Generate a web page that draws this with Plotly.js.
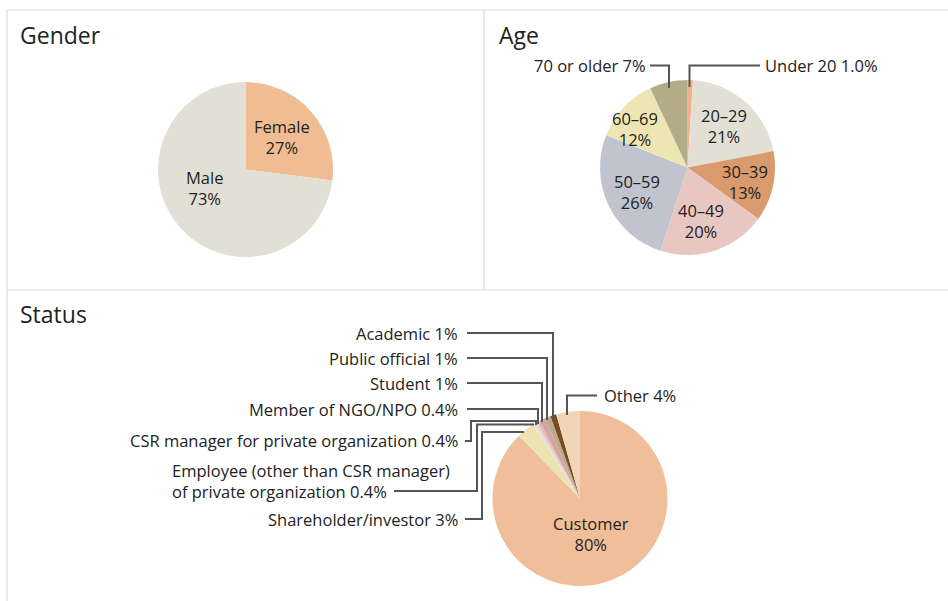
<!DOCTYPE html>
<html>
<head>
<meta charset="utf-8">
<script src="https://cdn.plot.ly/plotly-3.0.1.min.js"></script>
<style>html,body{margin:0;padding:0;background:#fff;}#chart{width:948px;height:601px;}</style>
</head>
<body>
<div id="chart"></div>
<script>
// ---------- DATA ----------
const genderLabels = ['Female', 'Male'];
const genderValues = [27, 73];
const genderText = ['27%', '73%'];

const ageLabels = ['Under 20', '20–29', '30–39', '40–49', '50–59', '60–69', '70 or older'];
const ageValues = [1.0, 21, 13, 20, 26, 12, 7];
const ageText = ['1.0%', '21%', '13%', '20%', '26%', '12%', '7%'];

const statusLabels = ['Customer', 'Shareholder/investor',
  'Employee (other than CSR manager)<br>of private organization',
  'CSR manager for private organization', 'Member of NGO/NPO',
  'Student', 'Public official', 'Academic', 'Other'];
const statusValues = [80, 3, 0.4, 0.4, 0.4, 1, 1, 1, 4];
const statusText = ['80%', '3%', '0.4%', '0.4%', '0.4%', '1%', '1%', '1%', '4%'];

// ---------- STYLE ----------
const genderColors = ['#F0BC94', '#E2E0D4'];
const ageColors = ['#F2B08E', '#E2E0D4', '#D99A6C', '#E8C7C3', '#C1C4CE', '#EEE6B2', '#B4AB89'];
const statusColors = ['#F0BE98', '#ECE4B0', '#E6E1DC', '#EBCFCB', '#DDB9B9', '#D7A2A2', '#B8AC8A', '#7A4A22', '#EFD6B6'];

const W = 948, H = 601;
const FONT = 'Open Sans, Noto Sans, sans-serif';
const LBL = 16.5;
const px = x => x / W, py = y => 1 - y / H;
function dom(cx, cy, r) { return { x: [px(cx - r), px(cx + r)], y: [py(cy + r), py(cy - r)] }; }

function pie(labels, values, colors, domain) {
  return {
    type: 'pie', labels: labels, values: values, sort: false,
    direction: 'clockwise', rotation: 0, textinfo: 'none',
    marker: { colors: colors, line: { width: 0 } },
    domain: domain, showlegend: false, hoverinfo: 'label+percent'
  };
}

const traces = [
  pie(genderLabels, genderValues, genderColors, dom(245.5, 169.5, 87.5)),
  pie(ageLabels, ageValues, ageColors, dom(687.5, 167.5, 87.5)),
  pie(statusLabels, statusValues, statusColors, dom(580, 498.5, 87.5))
];

const annotations = [];
function ann(text, x, y, xanchor, size, align) {
  annotations.push({ text: text, x: x, y: y, xref: 'x', yref: 'y', showarrow: false,
    xanchor: xanchor || 'center', yanchor: 'middle', align: align || 'center',
    font: { family: FONT, size: size || LBL, color: '#222' } });
}
// titles
ann('Gender', 18, 35, 'left', 23);
ann('Age', 497, 35, 'left', 23);
ann('Status', 18, 314, 'left', 23);

// gender inside labels
ann(genderLabels[0] + '<br>' + genderText[0], 282, 137);
ann(genderLabels[1] + '<br>' + genderText[1], 204, 188);

// age labels
ann(ageLabels[1] + '<br>' + ageText[1], 724, 126);
ann(ageLabels[2] + '<br>' + ageText[2], 745, 182);
ann(ageLabels[3] + '<br>' + ageText[3], 701, 220.5);
ann(ageLabels[4] + '<br>' + ageText[4], 637, 192);
ann(ageLabels[5] + '<br>' + ageText[5], 635, 129);
ann(ageLabels[0] + ' ' + ageText[0], 763, 65.5, 'left');
ann(ageLabels[6] + ' ' + ageText[6], 648, 65.5, 'right');

// status labels
ann(statusLabels[0] + '<br>' + statusText[0], 591, 534);
ann(statusLabels[8] + ' ' + statusText[8], 602, 395.5, 'left');
ann(statusLabels[7] + ' ' + statusText[7], 460, 333, 'right');
ann(statusLabels[6] + ' ' + statusText[6], 460, 358, 'right');
ann(statusLabels[5] + ' ' + statusText[5], 460, 383, 'right');
ann(statusLabels[4] + ' ' + statusText[4], 460, 409, 'right');
ann(statusLabels[3] + ' ' + statusText[3], 460, 440, 'right');
ann(statusLabels[2] + ' ' + statusText[2], 170, 481, 'left', LBL, 'left');
ann(statusLabels[1] + ' ' + statusText[1], 460, 519, 'right');

// ---------- decoration: frame and leader lines ----------
const shapes = [];
function frame(x0, y0, x1, y1) {
  shapes.push({ type: 'line', xref: 'x', yref: 'y', x0: x0, y0: y0, x1: x1, y1: y1,
    line: { color: '#DCDCDC', width: 1.2 }, layer: 'below' });
}
frame(7, 10, 948, 10);
frame(7, 10, 7, 601);
frame(484, 10, 484, 290);
frame(7, 290, 948, 290);

function leader(pts) {
  let d = 'M ' + pts[0][0] + ' ' + pts[0][1];
  for (let i = 1; i < pts.length; i++) d += ' L ' + pts[i][0] + ' ' + pts[i][1];
  shapes.push({ type: 'path', xref: 'x', yref: 'y', path: d,
    line: { color: '#555555', width: 2 }, layer: 'above' });
}
// age
leader([[650, 65.5], [669, 65.5], [669, 88]]);
leader([[760, 65.5], [689.5, 65.5], [689.5, 87]]);
// status
leader([[597, 395.5], [567, 395.5], [567, 415]]);
leader([[467, 333], [553, 333], [553, 418]]);
leader([[467, 358], [547, 358], [547, 420]]);
leader([[467, 383], [542, 383], [542, 422]]);
leader([[467, 409], [538, 409], [538, 424]]);
leader([[465, 441], [471, 441], [471, 421], [536, 421], [536, 425]]);
leader([[394, 491], [477, 491], [477, 424.5], [534, 424.5]]);
leader([[465, 519], [482, 519], [482, 432], [524, 432]]);

const layout = {
  width: W, height: H,
  margin: { l: 0, r: 0, t: 0, b: 0 },
  paper_bgcolor: '#fff', plot_bgcolor: 'rgba(0,0,0,0)',
  xaxis: { range: [0, W], visible: false, fixedrange: true, domain: [0, 1] },
  yaxis: { range: [H, 0], visible: false, fixedrange: true, domain: [0, 1] },
  annotations: annotations, shapes: shapes, showlegend: false,
  font: { family: FONT }
};

Plotly.newPlot('chart', traces, layout, { displayModeBar: false, staticPlot: true });
</script>
</body>
</html>
